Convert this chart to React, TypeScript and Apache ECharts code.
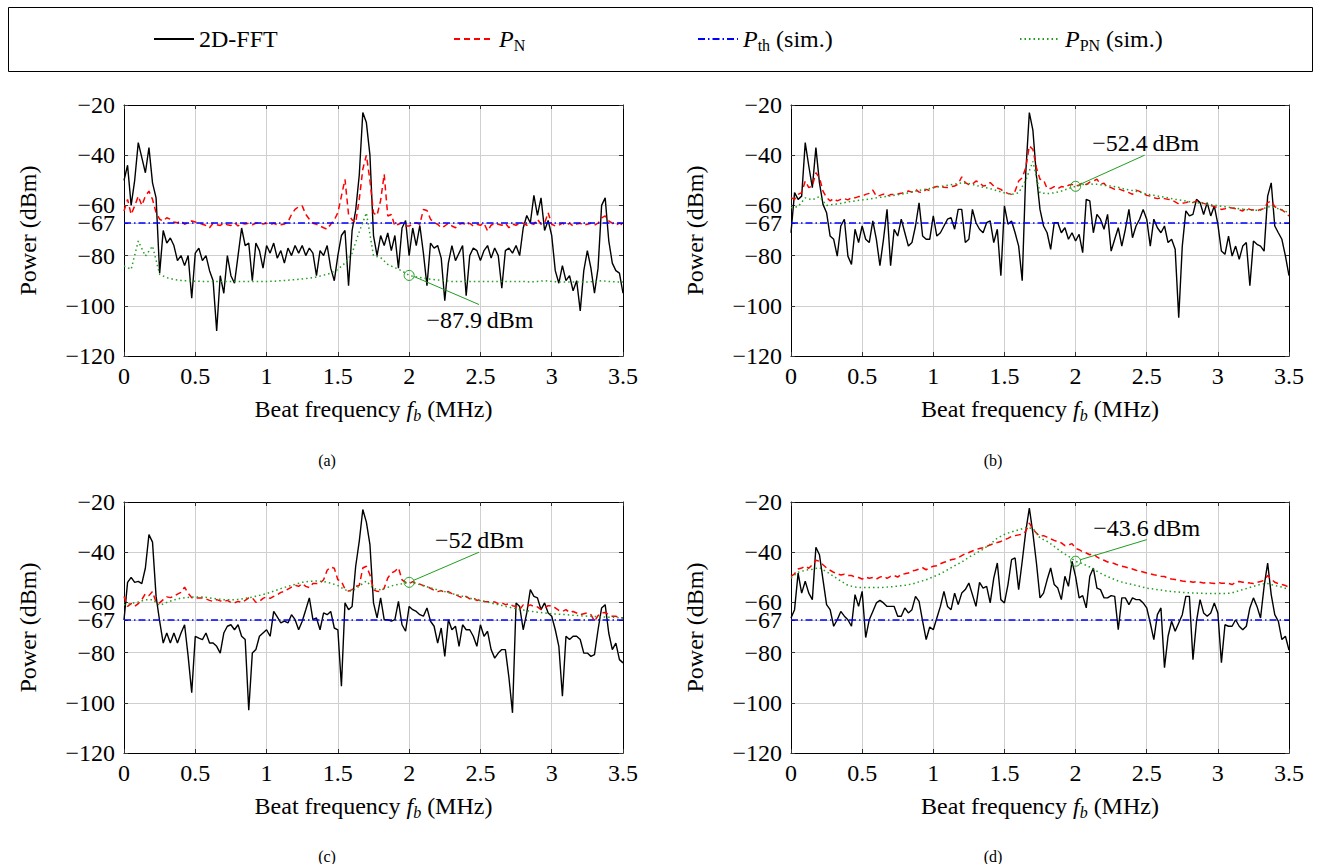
import React, { useEffect, useRef } from 'react';
import * as echarts from 'echarts';

const FONT = "'Liberation Serif', 'Times New Roman', serif";
const GREEN = '#1f9e1f';
const STEP_FINE = 0.025;
const STEP_COARSE = 0.05;
const X_TICKS_MAX = 3.5;
const Y_TICKS = [-120, -100, -80, -67, -60, -40, -20];
const P_TH = -67;

// ---------- panel (a) ----------
const fftA = [
  -50, -44, -60, -50, -35, -41, -47, -37, -51, -57,
  -87, -70, -75, -73, -76, -82, -80, -84, -80, -97,
  -79, -77, -82, -80, -86, -90, -110, -88, -95, -80,
  -88, -91, -80, -69, -76, -75, -90, -75, -78, -85,
  -76, -79, -75, -81, -78, -83, -77, -80, -76, -79,
  -76, -80, -77, -79, -88, -78, -80, -76, -85, -90,
  -80, -72, -70, -92, -70, -62, -48, -23, -27, -40,
  -72,
  -80, -72, -76, -71, -78, -72, -85, -69, -66,
  -80, -69, -76, -68, -79, -92, -75, -77, -76, -81,
  -98, -83, -76, -82, -79, -76, -96, -80, -77, -78,
  -82, -78, -76, -81, -77, -80, -93, -78, -77, -79,
  -76, -80, -69, -64, -67, -56, -64, -57, -70, -66,
  -72, -86, -91, -84, -90, -88, -94, -90, -102, -86,
  -78, -85, -95, -85, -60, -57, -74, -83, -86, -87,
  -95,
];
const pnA = [
  -62.2, -57.6, -63.6, -60.2, -56.3, -60, -56.3, -54.3, -57.6, -62.9,
  -65.5, -66.2, -64.9, -65.5, -66.6, -66.9, -66.2, -67.5, -66.9, -66.2,
  -66.6, -67.1, -67.5, -68, -68.9, -67.1, -67.7, -68, -67.1, -67.7,
  -68, -66.9, -68.2, -67.1, -67.4, -67.1, -67.7, -67.1, -66.9, -67.4,
  -67.1, -67.7, -67.1, -67.7, -67.7, -67.4, -66.6, -63.6, -61.6, -60.5,
  -60.2, -63.6, -65.5, -67.1, -67.5, -68.2, -68.9, -69.5, -67.5, -65.8,
  -62.9, -56.3, -49.6, -63.6, -65.8, -66.9, -57.6, -45.6, -40, -50,
  -63,
  -64, -58, -47.6, -64.2, -63.6, -68.2, -67.5, -66.9, -68.2,
  -68.2, -67.5, -66.9, -67.5, -61.6, -62, -65.5, -66.9, -67.5, -68.9,
  -68.2, -67.1, -68.2, -68.9, -67.5, -67.1, -67.9, -67.1, -68.2, -67.5,
  -67.9, -67.1, -70.2, -67.9, -67.1, -67.5, -67.9, -67.1, -68.9, -67.5,
  -67.9, -67.1, -67.1, -67.9, -67.1, -67.5, -65.5, -67.5, -67.1, -62.9,
  -67.5, -68.2, -67.9, -67.1, -67.9, -67.1, -68.2, -67.4, -67.1, -67.9,
  -67.5, -67.1, -67.9, -67.1, -65, -64.2, -66.2, -67.1, -67.9, -67.1,
  -67.9,
];
const ppnA = [
  -84.1, -85.5, -74.2, -80.2, -76.2, -87.5, -88.8, -89.5, -89.9, -90.1,
  -90.2, -90.3, -90.3, -90.3, -90.3, -90.3, -90.3, -90.3, -90.3, -90.3,
  -90.3, -90.2, -90, -89.8, -89.6, -89.3, -89, -88.5, -87.8, -87,
  -85.5, -83, -79, -70.5, -63, -80, -80.8, -83.5, -84.8, -86.1,
  -87.9, -88.5, -89, -89.4, -89.7, -90, -90.3, -90.3, -90.3, -90.3,
  -90.3, -90.3, -90.3, -90.3, -90.3, -90.3, -90.3, -90.5, -90.3, -90,
  -90.3, -90.5, -90.5, -90.5, -90.5, -90.5, -90.3, -90, -90.3, -90.5,
  -90.5,
];

// ---------- panel (b) ----------
const fftB = [
  -70.9, -54.9, -57.6, -56.3, -35, -44.3, -52.9, -37, -51, -59.6,
  -62.9, -72.2, -73.5, -80.2, -68.2, -65.5, -80.2, -83.5, -69.5, -74.8,
  -68.2, -73.5, -74.8, -66.2, -73.5, -84, -73.5, -61.6, -84, -69.5,
  -72.2, -65.5, -70.9, -76.2, -74.8, -68.2, -59, -72.2, -73.5, -73.5,
  -64.2, -72.2, -70.9, -68.2, -65.5, -64.9, -69.5, -61.6, -61.6, -74.8,
  -73.5, -61.6, -66.9, -69.5, -70.9, -66.9, -66.2, -74.8, -69.5, -88,
  -60.2, -67.5, -66.2, -70.9, -76.2, -90, -47, -23, -30, -48.3,
  -61.6,
  -68.2, -70.9, -77.5, -66.9, -66.9, -70.9, -68.9, -73.5, -70.9,
  -74.2, -71.5, -78.8, -57.6, -58.2, -70.9, -63.6, -65.5, -69.5, -63.6,
  -78.2, -73.5, -68.9, -76.2, -69.5, -61.6, -72.9, -68.2, -65.5, -61.6,
  -65.5, -76.2, -65.5, -68.9, -70.9, -68.2, -74.8, -73.5, -77.5, -104.7,
  -76.2, -62.2, -64.2, -63.6, -57.6, -58.9, -63.6, -58.9, -64.2, -60.2,
  -67.5, -78.2, -79.5, -72.2, -80.2, -76.2, -81.5, -76.2, -74.8, -92,
  -74.2, -75.5, -76.2, -78.2, -56.3, -51, -68.2, -70.9, -73.5, -80.2,
  -88,
];
const pnB = [
  -56.9, -57.6, -55.6, -54.9, -50.3, -52.9, -52.3, -47, -49, -54.3,
  -56.9, -58.2, -57.3, -58.2, -57.6, -57.3, -57.8, -56.9, -57, -56.5,
  -56.3, -55.6, -55.2, -53.9, -56.3, -56, -55.5, -56.3, -55.7, -55.6,
  -55.5, -55.2, -54.7, -54.3, -54.7, -53.6, -54.7, -54.9, -53.6, -54.1,
  -52.9, -52.5, -52.3, -52.8, -52.9, -52.5, -52.3, -51.5, -48.6, -50.9,
  -51.7, -51.5, -50.3, -50.9, -52.3, -52, -50.9, -52.3, -53.1, -53.6,
  -54.7, -55.2, -55.6, -54.3, -50.3, -49, -45, -36.3, -37.7, -45,
  -49.6,
  -49.9, -53.3, -53.3, -52.5, -53.3, -52.5, -52.8, -52, -51.6,
  -52.3, -52, -50.9, -51.7, -50.7, -50.3, -49.6, -51.5, -51.2, -52.9,
  -52.9, -53.6, -53.3, -53.9, -54.4, -54.9, -55.6, -53.9, -54.4, -55.2,
  -56, -56.3, -56.9, -57.3, -57, -57.3, -57.6, -57.8, -58.6, -59.4,
  -59.2, -58.9, -58.4, -58.9, -58.2, -58.6, -59.2, -59.6, -60, -60.5,
  -60.9, -61.6, -61.3, -60.9, -61, -61.3, -61.8, -62.2, -61, -61.6,
  -61.8, -62.2, -61.6, -61.3, -58.9, -58.2, -60.5, -61.3, -61.8, -62.9,
  -64.2,
];
const ppnB = [
  -60.9, -60.5, -57, -57.8, -56.5, -60, -59.6, -59.2, -58.6, -58.2,
  -57.8, -57.5, -57, -56.6, -56.2, -55.8, -55.3, -54.7, -54, -53.5,
  -53, -52.5, -52, -51.5, -51, -51.3, -52, -52.8, -53.3, -54.2,
  -55, -55.6, -55, -50, -42.5, -55, -55.3, -55, -54.3, -53.3,
  -52.4, -51.7, -51.5, -51.6, -52, -52.3, -52.8, -53.6, -54.1, -54.7,
  -55.5, -56, -56.5, -57, -57.6, -58, -58.5, -58.9, -59.3, -59.7,
  -60.1, -60.5, -60.9, -61.3, -61.7, -62, -61.9, -60.5, -60.9, -61.8,
  -62.9,
];

// ---------- panel (c) ----------
const fftC = [
  -67, -52, -50, -52, -51.6, -52.5, -46.3, -33, -36, -57.6,
  -67.5, -76.2, -72.2, -76.2, -72.2, -76.2, -72.2, -68.9, -81.5, -96,
  -73.5, -74.2, -74.8, -72.2, -76.2, -76.2, -77.5, -80.2, -72.2, -69.5,
  -68.9, -70.9, -68.9, -73.5, -74.8, -103, -80.2, -78.8, -73.5, -72.2,
  -70.9, -73.5, -63.6, -65.8, -68.2, -67.5, -68.2, -64.9, -66.9, -70.9,
  -67.5, -62.9, -58.2, -66.9, -66.2, -70.9, -64.2, -64.9, -63.6, -70.2,
  -70.9, -93.4, -60.2, -62.9, -61.6, -45.6, -35.7, -23, -28, -37,
  -60.2,
  -66.2, -58.2, -66.9, -66.9, -67.5, -66.9, -59.6, -68.9, -71.5,
  -61.6, -62.9, -63.6, -64.9, -65.5, -62.2, -67.5, -69.5, -76.2, -70.2,
  -81.5, -66.9, -70.9, -69.5, -77.5, -68.9, -70.9, -70.9, -73.5, -77.5,
  -68.9, -73.5, -71.5, -78.8, -82.2, -80.2, -78.8, -78.8, -90, -104,
  -60.2, -61.6, -70.9, -64.2, -54.9, -57.6, -58.2, -62.9, -60.2, -64.2,
  -65.5, -70.9, -77.5, -97.4, -73.5, -74.8, -73.5, -73.5, -74.8, -80.2,
  -80.2, -81.5, -80.8, -70.9, -62.2, -60.9, -72.2, -78.8, -76.2, -82.8,
  -84.1,
];
const pnC = [
  -57.6, -61.6, -60.5, -61.6, -60.5, -58.9, -56.5, -57.3, -55.7, -60,
  -60.2, -58.9, -57.8, -58.1, -57.6, -56.7, -56, -53.9, -56.3, -58.1,
  -58.2, -58.2, -58.2, -58.6, -59.2, -59.6, -58.9, -59.4, -59.6, -59.2,
  -60, -60.2, -59.6, -60, -59.2, -58.2, -58.2, -60, -59.6, -58.4,
  -57.8, -58.4, -57.6, -57, -56, -55.6, -54.7, -53.9, -53.1, -53.6,
  -52.5, -53.6, -54.1, -52.5, -52.5, -52.3, -51, -47.2, -45.9, -46.4,
  -51, -51.6, -54.7, -55.5, -54.9, -53.6, -53.3, -46.3, -45.6, -49,
  -55,
  -55.6, -55.7, -54.3, -50.3, -48.3, -47.6, -46.2, -51, -52,
  -52.5, -51.7, -52.5, -52.7, -53.3, -53.6, -54.4, -55.2, -55.7, -55.3,
  -56, -55.7, -56.5, -56.9, -57.6, -58.2, -57.6, -58.6, -58.2, -59.2,
  -58.9, -59.6, -59.7, -59.8, -59.8, -60.5, -60.2, -60.9, -60.5, -61.3,
  -61.6, -62.9, -61, -61.6, -61, -61.6, -61.8, -62.9, -62.2, -61.3,
  -61.3, -62.2, -63.2, -63.6, -62.9, -64, -63.6, -64.2, -64.9, -64.5,
  -64.2, -64.9, -67.5, -65.3, -64.2, -64, -64.9, -65.5, -65.5, -66.1,
  -66.2,
];
const ppnC = [
  -60.9, -60.4, -59.8, -59, -58.9, -61.2, -60, -59, -58.3, -58,
  -57.8, -57.8, -58.2, -58.6, -58.9, -59, -58.8, -58.4, -57.9, -57.2,
  -56.5, -55.5, -54.5, -53.6, -52.8, -52, -51.6, -51.5, -51.7, -52.3,
  -53.3, -55, -55.5, -53.5, -51.5, -54.5, -55, -54, -53, -52.6,
  -52, -52.5, -53.4, -54.2, -55, -55.7, -56.5, -57.2, -57.9, -58.7,
  -59.3, -59.9, -60.6, -61.2, -61.9, -62.5, -63, -63.5, -63.9, -64.2,
  -64.5, -64.7, -64.9, -65.1, -65.3, -65.5, -65.6, -65.8, -65.9, -66,
  -66.2,
];

// ---------- panel (d) ----------
const fftD = [
  -66.2, -62.9, -48.3, -56.3, -51.6, -56.3, -58.9, -38, -41, -51,
  -60.9, -62.9, -69.5, -66.9, -63.6, -65.5, -66.9, -69.5, -56.9, -61.6,
  -55.6, -74, -66.9, -63.6, -60.2, -59.2, -60.2, -61.6, -61.6, -61.6,
  -65.5, -65.5, -62.2, -64.2, -62.9, -57.6, -59.6, -67.5, -74.8, -69.8,
  -70.9, -66.2, -61.6, -55.6, -61.6, -62.9, -56.3, -60.9, -56.3, -54.9,
  -52.3, -56.9, -61.6, -52, -54.3, -53.6, -60.2, -50.3, -44.3, -58.9,
  -60.2, -52.9, -43, -42.3, -54.9, -43.6, -31.7, -22.4, -32.4, -44.3,
  -58.2,
  -56.3, -51, -46.3, -52.9, -54.3, -58.9, -49.6, -53.6, -43.6,
  -49.6, -58.2, -57.3, -62.2, -49.6, -46.3, -54.3, -54.9, -58.2, -58.2,
  -57.3, -57.6, -70.9, -58.2, -58.2, -60.9, -58.2, -58.9, -58.9, -60.2,
  -62.2, -68.2, -74.8, -64.9, -62.2, -86, -73.5, -67.5, -71.5, -68.2,
  -64.9, -57.6, -57.6, -82.8, -67.5, -58.9, -64.2, -65.5, -64.2, -60.2,
  -64.2, -84, -68.9, -69.5, -69.5, -66.9, -69.5, -70.9, -69.5, -62.2,
  -58.2, -61.6, -66.2, -53.6, -44.3, -56.9, -64.9, -67.5, -74.8, -73.5,
  -79,
];
const pnD = [
  -49.6, -48.6, -46.7, -46.3, -45.6, -46.4, -45, -43.2, -43.6, -45,
  -46.3, -47.2, -48, -48.6, -49.1, -48.8, -49.3, -49.3, -49.9, -50.1,
  -50.7, -49.9, -50.4, -50.1, -50.7, -49.9, -49.6, -50.4, -49.6, -49.3,
  -49.9, -48.8, -48.6, -48.3, -47.5, -47.2, -46.7, -46.2, -47, -46.2,
  -45.6, -45.4, -44.6, -44, -43.6, -43, -42.7, -42.2, -41.4, -40.6,
  -40.1, -39.5, -39, -38.5, -38.2, -37.7, -37.1, -36.6, -36.1, -35.7,
  -35, -34.5, -33.7, -33.4, -33.1, -32.9, -31.7, -28.4, -30.8, -32.4,
  -33.7,
  -33.4, -34, -34.7, -35.3, -35.8, -36.3, -37.4, -37.1, -36.6,
  -38.5, -39, -39.8, -40.3, -41, -40.6, -41.9, -42.7, -43.2, -43.9,
  -44, -44.6, -45.2, -45.6, -45.9, -46.3, -46.7, -47.2, -47.6, -47.9,
  -48.3, -48.6, -49, -49.2, -49.6, -49.7, -50.4, -50.7, -50.9, -51.1,
  -51.5, -51.7, -51.6, -52, -51.7, -52, -52.3, -52, -52.3, -52.5,
  -52, -52.4, -52.4, -52.4, -52.9, -52, -51.7, -52, -52, -52.3,
  -52.5, -52, -51.7, -51.2, -49.3, -50.7, -52, -52.5, -52.9, -53.3,
  -53.9,
];
const ppnD = [
  -50.3, -48, -47.2, -46.8, -46.1, -47.8, -49.6, -51.5, -53.2, -53.9,
  -54.1, -54.1, -54.1, -54, -53.8, -53.5, -53.2, -52.7, -51.8, -51,
  -49.8, -48.6, -47, -45.4, -43.9, -42, -40.5, -38.8, -36.8, -34.4,
  -32.9, -31.9, -31.1, -30.2, -30.5, -34.3, -35.7, -37.7, -39.9, -41.6,
  -43.6, -44.6, -45.9, -47.6, -49.1, -50.3, -51.5, -52.3, -52.9, -53.6,
  -54.3, -54.7, -55.1, -55.5, -55.8, -56, -56.2, -56.3, -56.4, -56.5,
  -56.5, -56.5, -56.2, -55.3, -54.5, -53.6, -52.8, -52.5, -53.3, -53.9,
  -54.9,
];

// annotated P_PN values (dBm) at f_b = 2 MHz
const annotatedValues = [-87.9, -52.4, -52, -43.6];
const annotatedLabels = ['\u221287.9\u2009dBm', '\u221252.4\u2009dBm', '\u221252\u2009dBm', '\u221243.6\u2009dBm'];
const captions = ['(a)', '(b)', '(c)', '(d)'];

const PANELS = [
  { fft: fftA, pn: pnA, ppn: ppnA },
  { fft: fftB, pn: pnB, ppn: ppnB },
  { fft: fftC, pn: pnC, ppn: ppnC },
  { fft: fftD, pn: pnD, ppn: ppnD },
];

// layout (pixels)
const GRIDS = [
  { left: 124, top: 105, width: 499, height: 251 },
  { left: 791, top: 105, width: 498, height: 251 },
  { left: 124, top: 502, width: 499, height: 251 },
  { left: 791, top: 502, width: 498, height: 251 },
];
// annotation geometry in data coordinates: [line start, line end, label centre]
const ANN_GEOM = [
  { from: [2.032, -88.3], to: [2.49, -99.5], label: [2.497, -105.6] },
  { from: [2.032, -51.6], to: [2.485, -40], label: [2.493, -35.3] },
  { from: [2.032, -51.2], to: [2.49, -40], label: [2.493, -35.3] },
  { from: [2.034, -43.0], to: [2.5, -35], label: [2.5, -30.4] },
];
const CAPTION_POS = [
  [327, 460], [993, 460], [327, 856], [993, 856],
];

const toPairs = (arr: number[], step: number) =>
  arr.map((v, i) => [Math.round(i * step * 1000) / 1000, v]);

const RICH = {
  r: { fontFamily: FONT, fontSize: 24, lineHeight: 28, color: '#000' },
  i: { fontFamily: FONT, fontSize: 24, lineHeight: 28, fontStyle: 'italic', color: '#000' },
  s: { fontFamily: FONT, fontSize: 16, lineHeight: 16, verticalAlign: 'bottom', color: '#000' },
  si: { fontFamily: FONT, fontSize: 16, lineHeight: 16, verticalAlign: 'bottom', fontStyle: 'italic', color: '#000' },
};

const LEGEND_TEXT: Record<string, string> = {
  fft: '{r|2D-FFT}',
  pn: '{i|P}{s|N}',
  pth: '{i|P}{s|th}{r| (sim.)}',
  ppn: '{i|P}{s|PN}{r| (sim.)}',
};
const LEGEND_LEFT: Record<string, number> = { fft: 153, pn: 453, pth: 697, ppn: 1019 };

const yFmt = (v: number) => (v < 0 ? '\u2212' + Math.abs(v) : String(v));

export default function App() {
  const ref = useRef<HTMLDivElement>(null);
  useEffect(() => {
    if (!ref.current) return;
    const chart = echarts.init(ref.current, undefined, { renderer: 'svg' });

    const xAxes: any[] = [];
    const yAxes: any[] = [];
    const series: any[] = [];

    GRIDS.forEach((_, gi) => {
      xAxes.push({
        type: 'value', gridIndex: gi, min: 0, max: X_TICKS_MAX, interval: 0.5, position: 'bottom',
        axisLine: { show: true, onZero: false, lineStyle: { color: '#000', width: 1 } },
        axisTick: { show: true, inside: true, length: 4, lineStyle: { color: '#333' } },
        axisLabel: { fontFamily: FONT, fontSize: 24, color: '#000', margin: 8, formatter: (v: number) => String(v) },
        splitLine: { show: true, lineStyle: { color: '#cfcfcf', width: 1 } },
        name: '{r|Beat frequency }{i|f}{si|b}{r| (MHz)}',
        nameLocation: 'middle', nameGap: 39,
        nameTextStyle: { fontFamily: FONT, rich: RICH },
      });
      yAxes.push({
        type: 'value', gridIndex: gi, min: -120, max: -20, interval: 20, position: 'left',
        axisLine: { show: true, onZero: false, lineStyle: { color: '#000', width: 1 } },
        axisTick: { show: true, inside: true, length: 4, customValues: Y_TICKS, lineStyle: { color: '#333' } },
        axisLabel: { fontFamily: FONT, fontSize: 24, color: '#000', margin: 9, customValues: Y_TICKS, formatter: yFmt },
        splitLine: { show: true, lineStyle: { color: '#cfcfcf', width: 1 } },
        name: 'Power (dBm)', nameLocation: 'middle', nameGap: 84, nameRotate: 90,
        nameTextStyle: { fontFamily: FONT, fontSize: 24, color: '#000' },
      });
    });
    GRIDS.forEach((_, gi) => {
      xAxes.push({
        type: 'value', gridIndex: gi, min: 0, max: X_TICKS_MAX, interval: 0.5, position: 'top',
        axisLine: { show: true, onZero: false, lineStyle: { color: '#000', width: 1 } },
        axisTick: { show: true, inside: true, length: 4, lineStyle: { color: '#333' } },
        axisLabel: { show: false }, splitLine: { show: false },
      });
      yAxes.push({
        type: 'value', gridIndex: gi, min: -120, max: -20, interval: 20, position: 'right',
        axisLine: { show: true, onZero: false, lineStyle: { color: '#000', width: 1 } },
        axisTick: { show: true, inside: true, length: 4, customValues: Y_TICKS, lineStyle: { color: '#333' } },
        axisLabel: { show: false }, splitLine: { show: false },
      });
    });

    PANELS.forEach((p, gi) => {
      const common = { type: 'line', xAxisIndex: gi, yAxisIndex: gi, symbol: 'none', showSymbol: false, silent: true };
      series.push({
        ...common, name: 'fft', data: toPairs(p.fft, STEP_FINE), z: 2,
        lineStyle: { color: '#000', width: 1.4 }, itemStyle: { color: '#000' },
      });
      series.push({
        ...common, name: 'pn', data: toPairs(p.pn, STEP_FINE), z: 3,
        lineStyle: { color: '#ff0000', width: 1.5, type: [6, 4] }, itemStyle: { color: '#ff0000' },
      });
      series.push({
        ...common, name: 'pth', data: [[0, P_TH], [X_TICKS_MAX, P_TH]], z: 4,
        lineStyle: { color: '#0000ff', width: 1.4, type: [7, 3, 1.5, 3] }, itemStyle: { color: '#0000ff' },
      });
      const g = ANN_GEOM[gi];
      series.push({
        ...common, name: 'ppn', data: toPairs(p.ppn, STEP_COARSE), z: 5,
        lineStyle: { color: GREEN, width: 1.5, type: [1.5, 3] }, itemStyle: { color: GREEN },
        markLine: {
          silent: true, symbol: ['none', 'none'],
          lineStyle: { color: GREEN, width: 1, type: 'solid' },
          label: { show: false },
          data: [[{ coord: g.from }, { coord: g.to }]],
        },
        markPoint: {
          silent: true,
          data: [
            {
              coord: [2, annotatedValues[gi]], symbol: 'circle', symbolSize: 10,
              itemStyle: { color: 'rgba(0,0,0,0)', borderColor: GREEN, borderWidth: 1 },
              label: { show: false },
            },
            {
              coord: g.label, symbol: 'rect', symbolSize: 1,
              itemStyle: { color: 'rgba(0,0,0,0)' },
              label: {
                show: true, position: 'inside', formatter: annotatedLabels[gi],
                fontFamily: FONT, fontSize: 24, color: '#000',
              },
            },
          ],
        },
      });
    });

    const legends = ['fft', 'pn', 'pth', 'ppn'].map((k) => ({
      data: [k], left: LEGEND_LEFT[k], top: 27, padding: 0,
      itemWidth: 40, itemHeight: 14, selectedMode: false,
      itemStyle: { opacity: 0 },
      formatter: (name: string) => LEGEND_TEXT[name],
      textStyle: { fontFamily: FONT, fontSize: 24, color: '#000', rich: RICH },
    }));

    const graphic: any[] = [
      {
        type: 'rect', shape: { x: 8.5, y: 7.5, width: 1304, height: 64 },
        style: { fill: 'none', stroke: '#000', lineWidth: 1 }, silent: true,
      },
      ...captions.map((c, i) => ({
        type: 'text', x: CAPTION_POS[i][0], y: CAPTION_POS[i][1], silent: true,
        style: {
          text: c, font: `16px ${FONT}`, fill: '#000',
          textAlign: 'center', textVerticalAlign: 'middle', align: 'center', verticalAlign: 'middle',
        },
      })),
    ];

    chart.setOption({
      animation: false,
      backgroundColor: '#fff',
      textStyle: { fontFamily: FONT },
      grid: GRIDS.map((g) => ({ ...g, containLabel: false })),
      xAxis: xAxes,
      yAxis: yAxes,
      legend: legends,
      series,
      graphic,
    });
    return () => chart.dispose();
  }, []);
  return (
    <div
      ref={ref}
      style={{ position: 'fixed', left: 0, top: 0, width: 1323, height: 864, background: '#fff' }}
    />
  );
}
